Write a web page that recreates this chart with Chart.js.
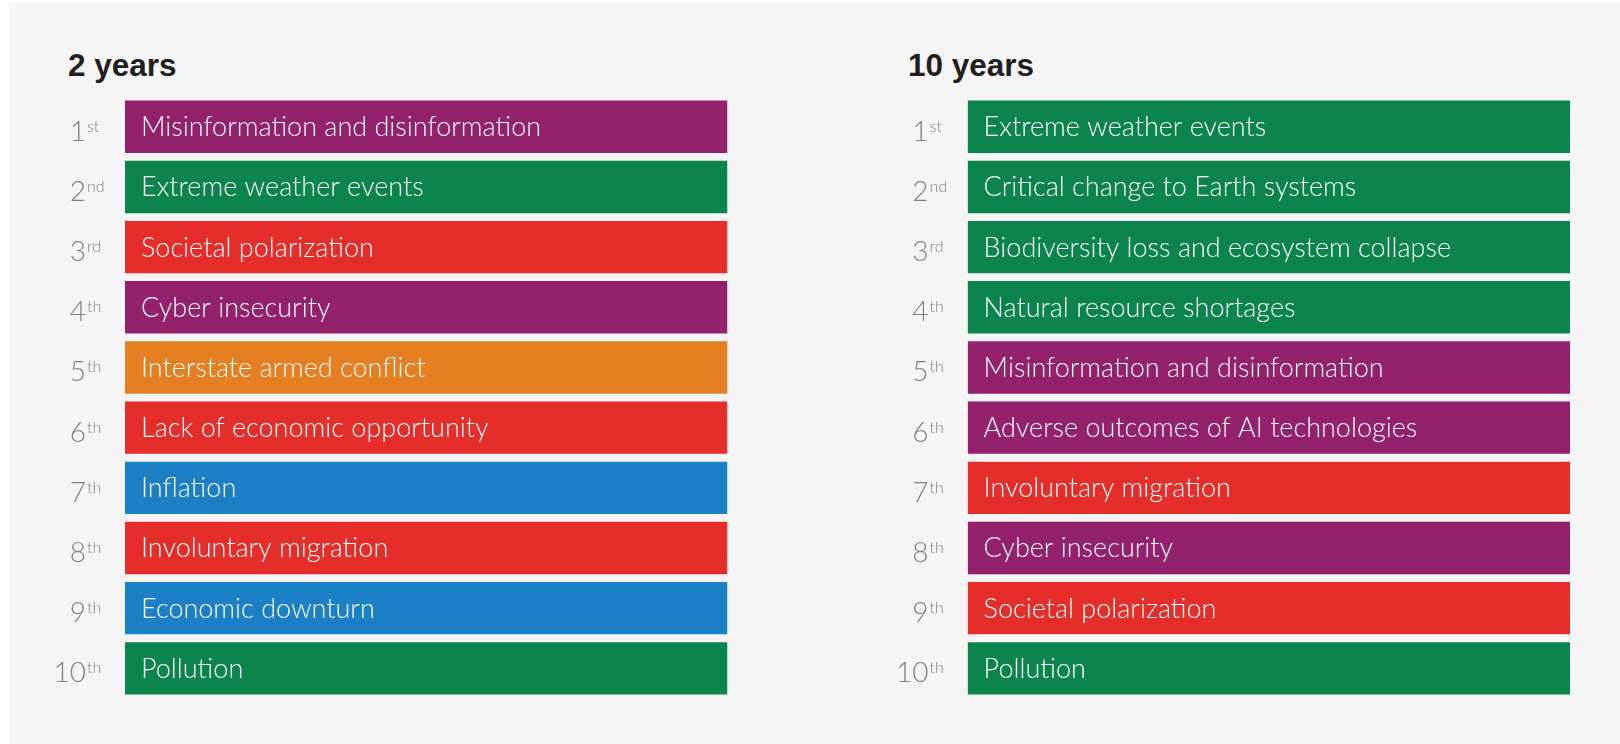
<!DOCTYPE html>
<html>
<head>
<meta charset="utf-8">
<script src="https://cdn.jsdelivr.net/npm/chart.js@4"></script>
<style>
  html, body { margin: 0; padding: 0; background: #ffffff; }
  body { width: 1620px; height: 744px; position: relative; overflow: hidden; }
  .panel { position: absolute; left: 9px; top: 3px; width: 1611px; height: 741px; background: #f5f5f5; }
  .title { position: absolute; top: 47px; font: bold 31.5px "Liberation Sans", Arial, sans-serif; color: #231f20; }
  .chart { position: absolute; top: 0; width: 810px; height: 744px; }
</style>
</head>
<body>
<div class="panel"></div>
<div class="title" style="left:68px">2 years</div>
<div class="title" style="left:908px">10 years</div>
<div class="chart" style="left:0"><canvas id="chart2y"></canvas></div>
<div class="chart" style="left:810px"><canvas id="chart10y"></canvas></div>

<script>
// ============================================================
//  GLOBAL RISKS RANKED BY SEVERITY – short and long term
// ============================================================

const rankNumbers = ['1', '2', '3', '4', '5', '6', '7', '8', '9', '10'];
const rankSuffixes = ['st', 'nd', 'rd', 'th', 'th', 'th', 'th', 'th', 'th', 'th'];

const risks2y = [
  'Misinformation and disinformation',
  'Extreme weather events',
  'Societal polarization',
  'Cyber insecurity',
  'Interstate armed conflict',
  'Lack of economic opportunity',
  'Inflation',
  'Involuntary migration',
  'Economic downturn',
  'Pollution',
];
const category2y = ['Technological', 'Environmental', 'Societal', 'Technological', 'Geopolitical',
  'Societal', 'Economic', 'Societal', 'Economic', 'Environmental'];

const risks10y = [
  'Extreme weather events',
  'Critical change to Earth systems',
  'Biodiversity loss and ecosystem collapse',
  'Natural resource shortages',
  'Misinformation and disinformation',
  'Adverse outcomes of AI technologies',
  'Involuntary migration',
  'Cyber insecurity',
  'Societal polarization',
  'Pollution',
];
const category10y = ['Environmental', 'Environmental', 'Environmental', 'Environmental', 'Technological',
  'Technological', 'Societal', 'Technological', 'Societal', 'Environmental'];

// every ranked risk gets a full-width bar
const barLength2y = [1, 1, 1, 1, 1, 1, 1, 1, 1, 1];
const barLength10y = [1, 1, 1, 1, 1, 1, 1, 1, 1, 1];

const CATEGORY_COLORS = {
  Economic: '#1b80c5',
  Environmental: '#0b844e',
  Geopolitical: '#e67e22',
  Societal: '#e52d2a',
  Technological: '#93216e',
};

const LIGHT_FONT = 'Lato, "Liberation Sans", Arial, sans-serif';

// Draws the risk names inside the bars and the ordinal ranks at the left
const rankLabels = {
  id: 'rankLabels',
  afterDatasetsDraw(chart, args, opts) {
    const ctx = chart.ctx;
    const meta = chart.getDatasetMeta(0);
    const yScale = chart.scales.y;
    ctx.save();
    meta.data.forEach((bar, i) => {
      const cy = yScale.getPixelForValue(i);
      // risk name
      ctx.font = '300 27px ' + LIGHT_FONT;
      ctx.fillStyle = '#ffffff';
      ctx.textAlign = 'left';
      ctx.textBaseline = 'alphabetic';
      ctx.fillText(opts.names[i], bar.base + 16, cy + 9.5);
      // rank number + superscript suffix
      const numRight = chart.chartArea.left - 39;
      ctx.fillStyle = '#808080';
      ctx.font = '300 28px ' + LIGHT_FONT;
      ctx.textAlign = 'right';
      ctx.fillText(rankNumbers[i], numRight, cy + 14);
      ctx.font = '300 16px ' + LIGHT_FONT;
      ctx.textAlign = 'left';
      ctx.fillText(rankSuffixes[i], numRight + 1, cy + 5);
    });
    ctx.restore();
  },
};

function makeRankChart(canvasId, values, names, categories, padding) {
  const ctx = document.getElementById(canvasId)?.getContext('2d');
  if (!ctx) return;
  return new Chart(ctx, {
    type: 'bar',
    data: {
      labels: rankNumbers.map((n, i) => n + rankSuffixes[i]),
      datasets: [{
        data: values,
        backgroundColor: categories.map(c => CATEGORY_COLORS[c]),
        borderWidth: 0,
        categoryPercentage: 1,
        barPercentage: 0.87,
      }],
    },
    options: {
      indexAxis: 'y',
      responsive: true,
      maintainAspectRatio: false,
      animation: false,
      layout: { padding },
      plugins: {
        legend: { display: false },
        tooltip: { enabled: false },
        rankLabels: { names },
      },
      scales: {
        x: { display: false, min: 0, max: 1 },
        y: { display: false },
      },
    },
    plugins: [rankLabels],
  });
}

makeRankChart('chart2y', barLength2y, risks2y, category2y,
  { left: 125, right: 82.5, top: 96.7, bottom: 45.6 });
makeRankChart('chart10y', barLength10y, risks10y, category10y,
  { left: 157.6, right: 50, top: 96.7, bottom: 45.6 });
</script>
</body>
</html>
